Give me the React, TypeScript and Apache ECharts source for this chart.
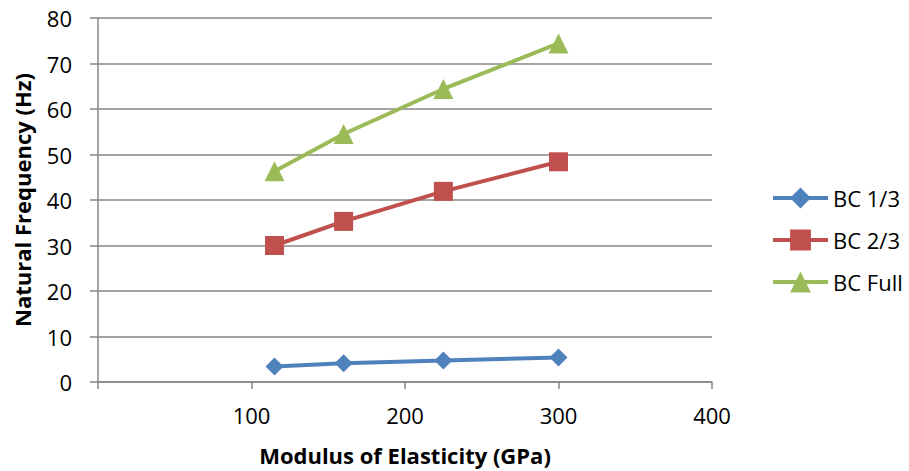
import React, { useEffect, useRef } from "react";
import * as echarts from "echarts";

const xValues = [115, 160, 225, 300];
const bc13 = [3.4, 4.1, 4.7, 5.4];
const bc23 = [30.0, 35.3, 41.9, 48.4];
const bcFull = [46.3, 54.5, 64.4, 74.4];
const seriesNames = ["BC 1/3", "BC 2/3", "BC Full"];
const xTitle = "Modulus of Elasticity (GPa)";
const yTitle = "Natural Frequency (Hz)";

const FONT = "Open Sans";

export default function App() {
  const ref = useRef<HTMLDivElement>(null);
  useEffect(() => {
    if (!ref.current) return;
    const chart = echarts.init(ref.current, undefined, { renderer: "svg" });
    const pair = (ys: number[]) => xValues.map((x, i) => [x, ys[i]]);
    const axisGray = "#868686";
    chart.setOption({
      animation: false,
      textStyle: { fontFamily: FONT },
      grid: { left: 98, right: 197, top: 18, bottom: 88 },
      legend: {
        orient: "vertical",
        left: 766,
        top: 182,
        itemGap: 20,
        itemWidth: 55,
        itemHeight: 26,
        lineStyle: { width: 4 },
        textStyle: { fontFamily: FONT, fontSize: 22, color: "#000" },
        data: seriesNames,
      },
      xAxis: {
        type: "value",
        min: 0,
        max: 400,
        interval: 100,
        name: xTitle,
        nameLocation: "middle",
        nameGap: 62,
        nameTextStyle: { fontFamily: FONT, fontSize: 22, fontWeight: "bold", color: "#000" },
        axisLine: { show: true, lineStyle: { color: axisGray, width: 1.5 } },
        axisTick: { show: true, length: 7, lineStyle: { color: axisGray, width: 1.5 } },
        axisLabel: {
          fontFamily: FONT,
          fontSize: 22,
          color: "#000",
          margin: 22,
          formatter: (v: number) => (v === 0 ? "" : String(v)),
        },
        splitLine: { show: false },
      },
      yAxis: {
        type: "value",
        min: 0,
        max: 80,
        interval: 10,
        name: yTitle,
        nameLocation: "middle",
        nameGap: 65,
        nameRotate: 90,
        nameTextStyle: { fontFamily: FONT, fontSize: 22, fontWeight: "bold", color: "#000" },
        axisLine: { show: true, lineStyle: { color: axisGray, width: 1.5 } },
        axisTick: { show: true, length: 8, lineStyle: { color: axisGray, width: 1.5 } },
        axisLabel: { fontFamily: FONT, fontSize: 22, color: "#000", margin: 26 },
        splitLine: { show: true, lineStyle: { color: axisGray, width: 1.5 } },
      },
      series: [
        {
          name: seriesNames[0],
          type: "line",
          data: pair(bc13),
          symbol: "diamond",
          symbolSize: 18,
          lineStyle: { color: "#4F81BD", width: 4 },
          itemStyle: { color: "#4F81BD" },
        },
        {
          name: seriesNames[1],
          type: "line",
          data: pair(bc23),
          symbol: "rect",
          symbolSize: 19,
          lineStyle: { color: "#C0504D", width: 4 },
          itemStyle: { color: "#C0504D" },
        },
        {
          name: seriesNames[2],
          type: "line",
          data: pair(bcFull),
          symbol: "triangle",
          symbolSize: 20,
          lineStyle: { color: "#9BBB59", width: 4 },
          itemStyle: { color: "#9BBB59" },
        },
      ],
    });
    return () => chart.dispose();
  }, []);
  return <div ref={ref} style={{ width: 909, height: 471, position: "absolute", left: 0, top: 0 }} />;
}
